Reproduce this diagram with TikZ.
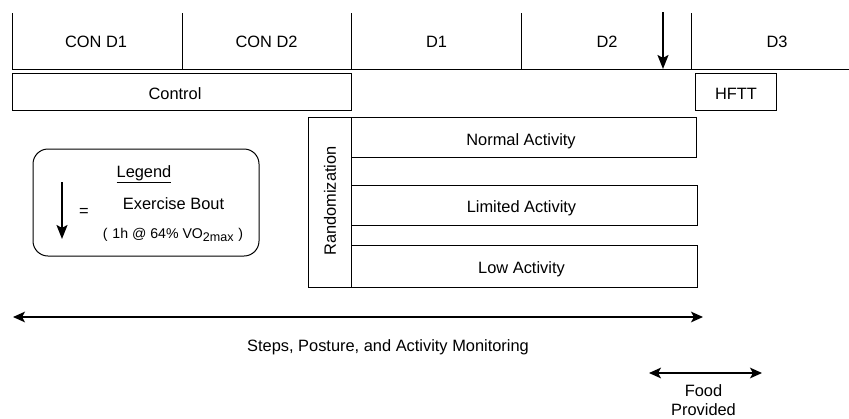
\documentclass[tikz,border=0pt]{standalone}
\usepackage{fontspec}
\setmainfont{Liberation Sans}
\usetikzlibrary{arrows.meta}

\tikzset{every picture/.style={line width=0.75pt}}
\tikzset{
  lbl/.style={inner sep=0.75pt, anchor=base, font=\fontsize{12.3}{14}\selectfont},
  smalllbl/.style={inner sep=0.75pt, anchor=base, font=\fontsize{10.6}{12}\selectfont},
  bout/.style={line width=1.5pt, -{Stealth[length=10.5pt, width=8.25pt, inset=2.2pt]}},
  span/.style={line width=1.2pt, {Stealth[length=9pt, width=8pt, inset=2.2pt]}-{Stealth[length=9pt, width=8pt, inset=2.2pt]}},
}

\begin{document}
\begin{tikzpicture}[x=0.75pt,y=0.75pt,yscale=-1,xscale=1]
\useasboundingbox (0,0) rectangle (849,418);

%Straight Lines: timeline
\draw    (12,69) -- (849,69) ;
\foreach \xx in {12,182,351,521,691}
  \draw    (\xx,13) -- (\xx,69) ;

%Shape: Rectangle (control)
\draw   (12,73) rectangle (351,110) ;
%Shape: Rectangle (hftt)
\draw   (695,73) rectangle (776,110) ;
%Shape: Rectangle (randomization)
\draw   (308,117) rectangle (351,287) ;
%Shape: Rectangle (normal)
\draw   (351,117) rectangle (696,157) ;
%Shape: Rectangle (limited)
\draw   (351,185) rectangle (697,225) ;
%Shape: Rectangle (low)
\draw   (351,245) rectangle (697,287) ;
%Rounded Rect: legend
\draw  [rounded corners=11.25pt] (33,149) rectangle (259,256) ;

%Exercise bout arrows
\coordinate (boutTop) at (663,12);
\coordinate (boutTip) at (663,69);
\draw [bout] (boutTop) -- (boutTip) ;
\coordinate (keyTop) at (62,182);
\coordinate (keyTip) at (62,239);
\draw [bout] (keyTop) -- (keyTip) ;

%Double arrows
\coordinate (monL) at (13,317);
\coordinate (monR) at (703,317);
\draw [span] (monL) -- (monR) ;
\coordinate (foodL) at (649,373);
\coordinate (foodR) at (762,373);
\draw [span] (foodL) -- (foodR) ;

% Text Node
\node [lbl] (conA) at (96,47) {CON D1};
% Text Node
\node [lbl] (conB) at (266.5,47) {CON D2};
% Text Node
\node [lbl] (dayA) at (436.5,47) {D1};
% Text Node
\node [lbl] (dayB) at (607,47) {D2};
% Text Node
\node [lbl] (dayC) at (777,47) {D3};
% Text Node
\node [lbl] (control) at (175,99) {Control};
% Text Node
\node [lbl] (hftt) at (736,99) {HFTT};
% Text Node
\node [inner sep=0.75pt, font=\fontsize{12.3}{14}\selectfont, rotate=90] (rand) at (330,201) {Randomization};
% Text Node
\node [lbl] (normal) at (521,145) {Normal Activity};
% Text Node
\node [lbl] (limited) at (521.5,212) {Limited Activity};
% Text Node
\node [lbl] (low) at (521.5,273) {Low Activity};
% Text Node
\node [lbl] (legend) at (144,177) {\underline{Legend}};
% Text Node
\node [inner sep=0.75pt, font=\fontsize{12.3}{14}\selectfont] (equals) at (84,212) {=};
% Text Node
\node [lbl] (bout) at (173.5,209) {Exercise Bout};
% Text Node
\node [smalllbl] (boutsub) at (173,238) {(\,\,1h @ 64\% VO\raisebox{-0.45ex}{\fontsize{9.4}{10}\selectfont 2max}\,\,)};
% Text Node
\node [lbl] (monitor) at (388,351) {Steps, Posture, and Activity Monitoring};
% Text Node
\node [lbl] (food) at (703.5,396) {Food};
% Text Node
\node [lbl] (provided) at (703.5,415) {Provided};

\end{tikzpicture}
\end{document}
